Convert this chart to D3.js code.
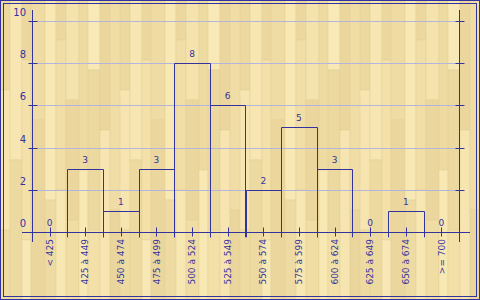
<!DOCTYPE html>
<html>
<head>
<meta charset="utf-8">
<script src="https://cdn.jsdelivr.net/npm/d3@7"></script>
<style>
  body { margin: 0; background: #fff; }
  svg { display: block; }
  text { font-family: "DejaVu Sans", Verdana, sans-serif; font-size: 9px; fill: #3333a0; }
</style>
</head>
<body>
<script>
// chart data
var categories = ["< 425", "425 à 449", "450 à 474", "475 à 499", "500 à 524", "525 à 549",
                  "550 à 574", "575 à 599", "600 à 624", "625 à 649", "650 à 674", ">= 700"];
var counts = [0, 3, 1, 3, 8, 6, 2, 5, 3, 0, 1, 0];
var yTicks = [0, 2, 4, 6, 8, 10];

var width = 480, height = 300;
var blue = "#3333a0";

var svg = d3.select("body").append("svg").attr("width", width).attr("height", height);

// wood background pattern
var defs = svg.append("defs");
var pat = defs.append("pattern").attr("id", "wood").attr("patternUnits", "userSpaceOnUse")
  .attr("width", 120).attr("height", 300);
pat.append("rect").attr("width", 120).attr("height", 300).attr("fill", "#f1dea6");
var planks = [
  [0, 0, 10, 90, "#ecd9a0"], [0, 90, 10, 140, "#f6e5b0"], [0, 230, 10, 70, "#eedba2"],
  [10, 0, 12, 160, "#f7e6b2"], [10, 160, 12, 140, "#eddaa1"],
  [22, 0, 9, 60, "#ecd89f"], [22, 60, 9, 180, "#f3e1a9"], [22, 240, 9, 60, "#f8e8b5"],
  [31, 0, 14, 120, "#efdca4"], [31, 120, 14, 180, "#ebd79e"],
  [45, 0, 11, 200, "#f8e8b4"], [45, 200, 11, 100, "#eedba3"],
  [56, 0, 10, 40, "#ecd89f"], [56, 40, 10, 150, "#f1dea6"], [56, 190, 10, 110, "#f7e7b3"],
  [66, 0, 13, 100, "#f5e3ad"], [66, 100, 13, 120, "#ebd79d"], [66, 220, 13, 80, "#f0dda4"],
  [79, 0, 9, 170, "#eedba2"], [79, 170, 9, 130, "#f8e8b4"],
  [88, 0, 12, 70, "#f9e9b6"], [88, 70, 12, 160, "#ecd99f"], [88, 230, 12, 70, "#f3e0a8"],
  [100, 0, 10, 130, "#ebd79e"], [100, 130, 10, 170, "#f6e5b0"],
  [110, 0, 10, 210, "#f0dda5"], [110, 210, 10, 90, "#ead69c"]
];
pat.selectAll("rect.plank").data(planks).enter().append("rect")
  .attr("class", "plank")
  .attr("x", function(d) { return d[0]; })
  .attr("y", function(d) { return d[1]; })
  .attr("width", function(d) { return d[2]; })
  .attr("height", function(d) { return d[3]; })
  .attr("fill", function(d) { return d[4]; })
  .attr("stroke", "#e4d095").attr("stroke-width", 0.5);

svg.append("rect").attr("width", width).attr("height", height).attr("fill", "url(#wood)");

// frame
svg.append("rect").attr("x", 0.5).attr("y", 0.5).attr("width", width - 1).attr("height", height - 1)
  .attr("fill", "none").attr("stroke", blue);
svg.append("rect").attr("x", 3.5).attr("y", 3.5).attr("width", width - 7).attr("height", height - 7)
  .attr("fill", "none").attr("stroke", blue);

var x = d3.scaleBand().domain(categories).range([31.7, 459.3]).padding(0);
var y = d3.scaleLinear().domain([0, 10]).range([232.3, 20.7]);

var left = x.range()[0], right = x.range()[1];

// gridlines
svg.append("g").selectAll("line").data(yTicks.filter(function(d) { return d > 0; })).enter().append("line")
  .attr("x1", left).attr("x2", right)
  .attr("y1", function(d) { return Math.round(y(d)) + 0.5; })
  .attr("y2", function(d) { return Math.round(y(d)) + 0.5; })
  .attr("stroke", "#b3b5dc").attr("stroke-width", 1);

// bars (outline only, sides run a little below the axis)
var barG = svg.append("g");
categories.forEach(function(c, i) {
  if (counts[i] <= 0) return;
  var x0 = Math.round(x(c)) + 0.5, x1 = Math.round(x(c) + x.bandwidth()) + 0.5;
  var yt = Math.round(y(counts[i])) + 0.5;
  barG.append("path")
    .attr("d", "M" + x0 + "," + (y(0) + 5) + "V" + yt + "H" + x1 + "V" + (y(0) + 5))
    .attr("fill", "none").attr("stroke", blue).attr("stroke-width", 1);
});

// value labels
svg.append("g").selectAll("text").data(counts).enter().append("text")
  .attr("x", function(d, i) { return x(categories[i]) + x.bandwidth() / 2; })
  .attr("y", function(d) { return y(d) - 6; })
  .attr("text-anchor", "middle")
  .text(function(d) { return d; });

// x axis line
var axisY = Math.round(y(0)) + 0.5;
svg.append("line").attr("x1", 22).attr("x2", 470).attr("y1", axisY).attr("y2", axisY)
  .attr("stroke", blue);

// center ticks
svg.append("g").selectAll("line").data(categories).enter().append("line")
  .attr("x1", function(d) { return Math.round(x(d) + x.bandwidth() / 2) + 0.5; })
  .attr("x2", function(d) { return Math.round(x(d) + x.bandwidth() / 2) + 0.5; })
  .attr("y1", axisY - 5).attr("y2", axisY + 4)
  .attr("stroke", blue);

// x tick labels
svg.append("g").selectAll("text").data(categories).enter().append("text")
  .attr("transform", function(d) {
    return "translate(" + (x(d) + x.bandwidth() / 2) + "," + 239 + ") rotate(-90)";
  })
  .attr("dy", "0.35em")
  .attr("text-anchor", "end")
  .text(function(d) { return d; });

// y axes (left and right)
[left, right].forEach(function(ax) {
  var xx = Math.round(ax) + 0.5;
  svg.append("line").attr("x1", xx).attr("x2", xx).attr("y1", 10).attr("y2", 242)
    .attr("stroke", blue);
  svg.append("g").selectAll("line").data(yTicks.filter(function(d) { return d > 0; })).enter().append("line")
    .attr("x1", xx - 4).attr("x2", xx + 5)
    .attr("y1", function(d) { return Math.round(y(d)) + 0.5; })
    .attr("y2", function(d) { return Math.round(y(d)) + 0.5; })
    .attr("stroke", blue);
});

// y tick labels
svg.append("g").selectAll("text").data(yTicks).enter().append("text")
  .attr("x", 26)
  .attr("y", function(d) { return y(d) - 5; })
  .attr("text-anchor", "end")
  .style("font-size", "10px")
  .text(function(d) { return d; });
</script>
</body>
</html>
